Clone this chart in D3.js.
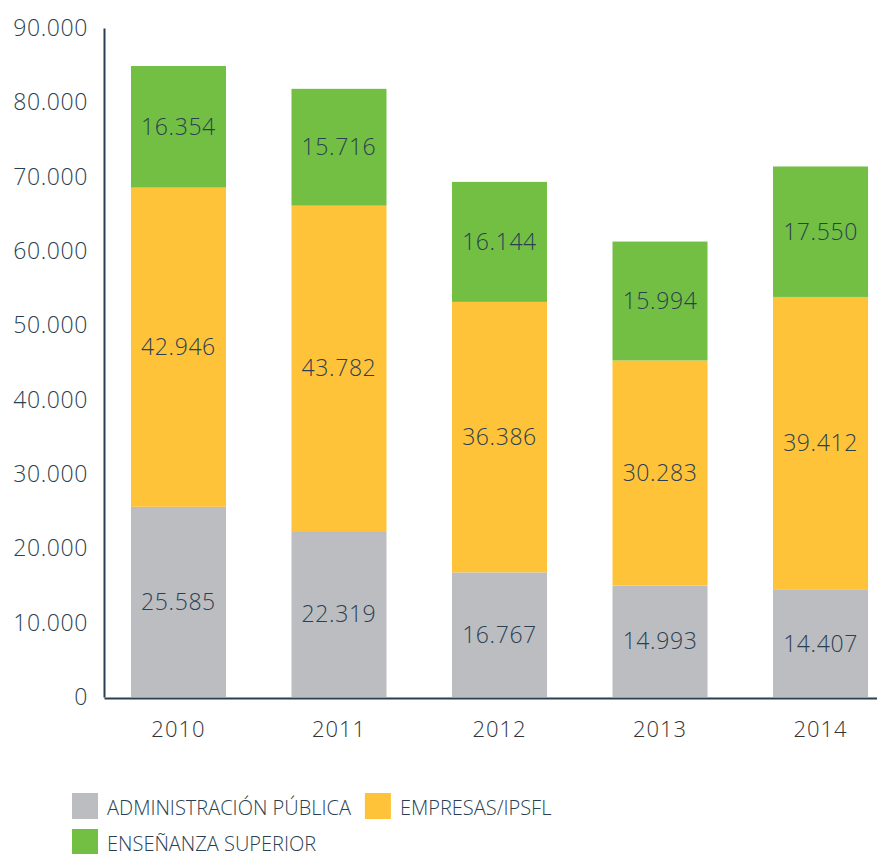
<!DOCTYPE html>
<html>
<head>
<meta charset="utf-8">
<script src="https://cdn.jsdelivr.net/npm/d3@7"></script>
<style>
body{margin:0;background:#fff;}
text{font-family:"Open Sans",sans-serif;}
</style>
</head>
<body>
<svg id="chart"></svg>
<script>
// values
var years = ["2010","2011","2012","2013","2014"];
var administracion = [25585,22319,16767,14993,14407];
var empresas = [42946,43782,36386,30283,39412];
var ensenanza = [16354,15716,16144,15994,17550];
var seriesKeys = ["adm","emp","ens"];
var seriesNames = ["ADMINISTRACIÓN PÚBLICA","EMPRESAS/IPSFL","ENSEÑANZA SUPERIOR"];
var seriesColors = ["#bcbdc1","#ffc33a","#72bf44"];
var yTicks = [0,10000,20000,30000,40000,50000,60000,70000,80000,90000];

var screen = {width:877, height:854}
var ink = "#2b3f52"

var es = d3.formatLocale({decimal:",", thousands:".", grouping:[3], currency:["","€"]})
var fmt = es.format(",d")

var rows = years.map(function(y,i){
    return {year:y, adm:administracion[i], emp:empresas[i], ens:ensenanza[i]}
})
var stacked = d3.stack().keys(seriesKeys)(rows)

var svg = d3.select("#chart")
    .attr("width", screen.width)
    .attr("height", screen.height)

var xScale = d3.scaleBand()
    .domain(years)
    .range([104, 895])
    .paddingInner(0.408)
    .paddingOuter(0.168)

var yScale = d3.scaleLinear()
    .domain([0, 90000])
    .range([697, 28])

var color = d3.scaleOrdinal().domain(seriesKeys).range(seriesColors)

var drawBars = function()
{
    var layers = svg.append("g")
        .selectAll("g")
        .data(stacked)
        .enter()
        .append("g")
        .attr("fill", function(s){return color(s.key)})

    layers.selectAll("rect")
        .data(function(s){return s})
        .enter()
        .append("rect")
        .attr("x", function(d){return xScale(d.data.year)})
        .attr("width", xScale.bandwidth())
        .attr("y", function(d){return yScale(d[1])})
        .attr("height", function(d){return yScale(d[0]) - yScale(d[1])})

    var labels = svg.append("g")
        .selectAll("g")
        .data(stacked)
        .enter()
        .append("g")

    labels.selectAll("text")
        .data(function(s){return s.map(function(d){return {d:d, key:s.key}})})
        .enter()
        .append("text")
        .attr("x", function(o){return xScale(o.d.data.year) + xScale.bandwidth()/2})
        .attr("y", function(o){return (yScale(o.d[0]) + yScale(o.d[1]))/2})
        .attr("dy", "0.35em")
        .attr("text-anchor", "middle")
        .attr("fill", ink)
        .style("font-size", "23px")
        .style("font-weight", 300)
        .style("letter-spacing", "0.6px")
        .text(function(o){return fmt(o.d.data[o.key])})
}

var drawAxes = function()
{
    var yAxis = d3.axisLeft(yScale)
        .tickValues(yTicks)
        .tickFormat(fmt)
        .tickSize(0)
        .tickPadding(16)
    var xAxis = d3.axisBottom(xScale)
        .tickSize(0)
        .tickPadding(23)

    var ya = svg.append("g")
        .attr("transform", "translate(104,0)")
        .call(yAxis)
    ya.select(".domain").attr("stroke", ink).attr("stroke-width", 2)
    ya.selectAll("text")
        .attr("fill", ink)
        .style("font-size", "23px")
        .style("font-weight", 300)
        .style("letter-spacing", "0.6px")

    var xa = svg.append("g")
        .attr("transform", "translate(0,698)")
        .call(xAxis)
    xa.select(".domain").attr("stroke", ink).attr("stroke-width", 2)
    xa.selectAll("text")
        .attr("fill", "#333333")
        .style("font-size", "22px")
        .style("font-weight", 300)
        .style("letter-spacing", "1px")
}

var drawLegend = function()
{
    var legend = svg.append("g").classed("legend", true)
    var x = 72, y = 793
    seriesNames.forEach(function(name, i){
        var item = legend.append("g")
        item.append("rect")
            .attr("width", 26)
            .attr("height", 26)
            .attr("fill", seriesColors[i])
        var t = item.append("text")
            .attr("x", 35)
            .attr("y", 22)
            .attr("fill", ink)
            .style("font-size", "20px")
            .style("font-weight", 300)
            .text(name)
        var w = 35 + t.node().getComputedTextLength() + 14
        if (x + w > 660) { x = 72; y += 36 }
        item.attr("transform", "translate(" + x + "," + y + ")")
        x += w
    })
}

drawBars()
drawAxes()
drawLegend()
</script>
</body>
</html>
